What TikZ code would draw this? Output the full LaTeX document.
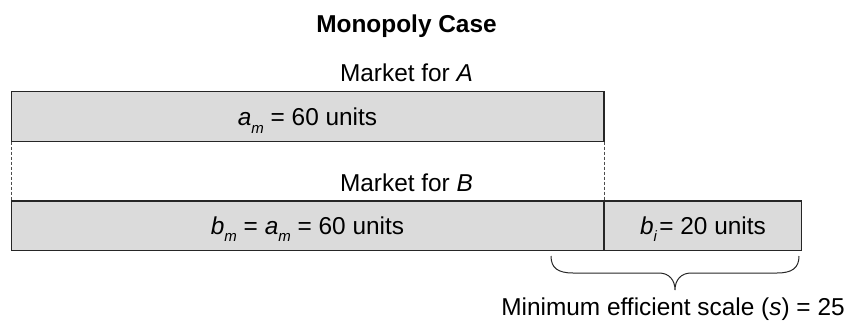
\documentclass[tikz,border=0pt]{standalone}
\usepackage{fontspec}
\setmainfont{Liberation Sans}
\newcommand\subit[1]{\raisebox{-0.3em}{\fontsize{15}{15}\selectfont\textit{#1}}}
\begin{document}
\begin{tikzpicture}[x=1pt,y=-1pt,
  every node/.style={font=\fontsize{24.4}{28}\selectfont, inner sep=0pt, outer sep=0pt},
  bar/.style={draw=black!85, line width=1.1pt, fill=black!14, anchor=north west},
  lbl/.style={anchor=base},
  guide/.style={draw=black!70, line width=0.8pt, dash pattern=on 3pt off 2pt}]
\useasboundingbox (0,0) rectangle (850,325);
% boxes
\node[bar, minimum width=592.5pt, minimum height=50pt] (A) at (11.5,91.5) {};
\node[bar, minimum width=592.5pt, minimum height=49.5pt] (B) at (11.5,201) {};
\node[bar, minimum width=197.5pt, minimum height=49.5pt] (Bi) at (604,201) {};
% texts
\node[lbl, font=\fontsize{24.4}{28}\selectfont\bfseries] (title) at (406.5,32.7) {Monopoly Case};
\node[lbl] (mA) at (406.5,81.7) {Market for \textit{A}};
\node[lbl] (am) at (307.5,125.7) {\textit{a}\subit{m} = 60 units};
\node[lbl] (mB) at (406.5,191.7) {Market for \textit{B}};
\node[lbl] (bm) at (307.5,234) {\textit{b}\subit{m} = \textit{a}\subit{m} = 60 units};
\node[lbl] (bi) at (703,234) {\textit{b}\subit{i}\hspace{0.08em}= 20 units};
\node[lbl] (mes) at (673,315) {Minimum efficient scale (\textit{s}) = 25};
% dashed guides
\draw[guide] (A.south west) -- (B.north west);
\draw[guide] (A.south east) -- (B.north east);
% brace
\coordinate (bl) at (551,256);
\coordinate (br) at (799,256);
\coordinate (tip) at (675,290);
\draw[black!85, line width=1pt]
  (bl) .. controls (551,268) and (558,273) .. (573,273)
  -- (659,273) .. controls (669,273) and (675,280) .. (tip)
  .. controls (675,280) and (681,273) .. (691,273)
  -- (777,273) .. controls (792,273) and (799,268) .. (br);
\end{tikzpicture}
\end{document}
